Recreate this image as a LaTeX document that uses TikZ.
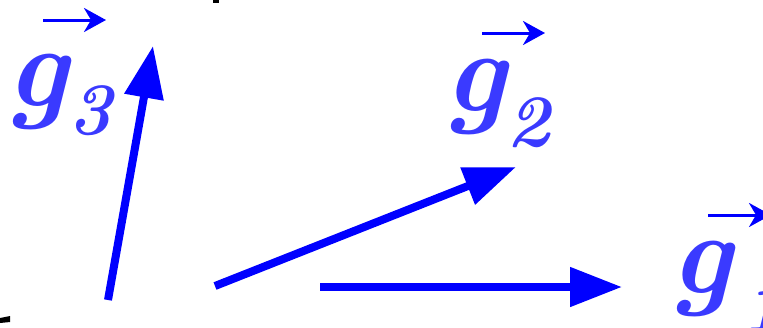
\documentclass[tikz,border=0pt]{standalone}
\usetikzlibrary{arrows.meta}
\definecolor{arr}{RGB}{0,0,255}
\definecolor{lab}{RGB}{58,58,255}
\begin{document}
\begin{tikzpicture}[x=1pt,y=-1pt,
 vec/.style={arr, line width=8pt, -{Triangle[length=52pt,width=38pt]}},
 small/.style={arr, line width=3pt, -{Stealth[length=22pt,width=24pt,inset=7pt]}},
 gl/.style={lab, font=\fontsize{116}{116}\selectfont\bfseries\itshape, inner sep=0pt, anchor=base west},
 sub/.style={lab, font=\fontsize{74}{74}\selectfont\bfseries\itshape, inner sep=0pt, anchor=base west}]
\useasboundingbox (0,0) rectangle (763,327);
\clip (0,0) rectangle (763,327);
% arrow endpoints
\coordinate (a3s) at (108,300); \coordinate (a3e) at (153,46);
\coordinate (a2s) at (215,286); \coordinate (a2e) at (516,167);
\coordinate (a1s) at (320,287); \coordinate (a1e) at (622,287);
\draw[vec] (a3s) -- (a3e);
\draw[vec] (a2s) -- (a2e);
\draw[vec] (a1s) -- (a1e);
% labels
\node[gl] (g3) at (6,106) {g};
\node[sub] (s3) at (68,134) {3};
\coordinate (v3s) at (43,20); \coordinate (v3e) at (106,20);
\draw[small] (v3s) -- (v3e);
\node[gl] (g2) at (444,111) {g};
\node[sub] (s2) at (506,146) {2};
\coordinate (v2s) at (482,33); \coordinate (v2e) at (545,33);
\draw[small] (v2s) -- (v2e);
\node[gl] (g1) at (670,293) {g};
\node[sub] (s1) at (741,331) {1};
\coordinate (v1s) at (708,215); \coordinate (v1e) at (771,215);
\draw[small] (v1s) -- (v1e);
% cut-off black fragments
\fill[black] (213,0) rectangle (219,3);
\fill[black] (0,318) -- (10,316) -- (10,322) -- (0,323) -- cycle;
\end{tikzpicture}
\end{document}
